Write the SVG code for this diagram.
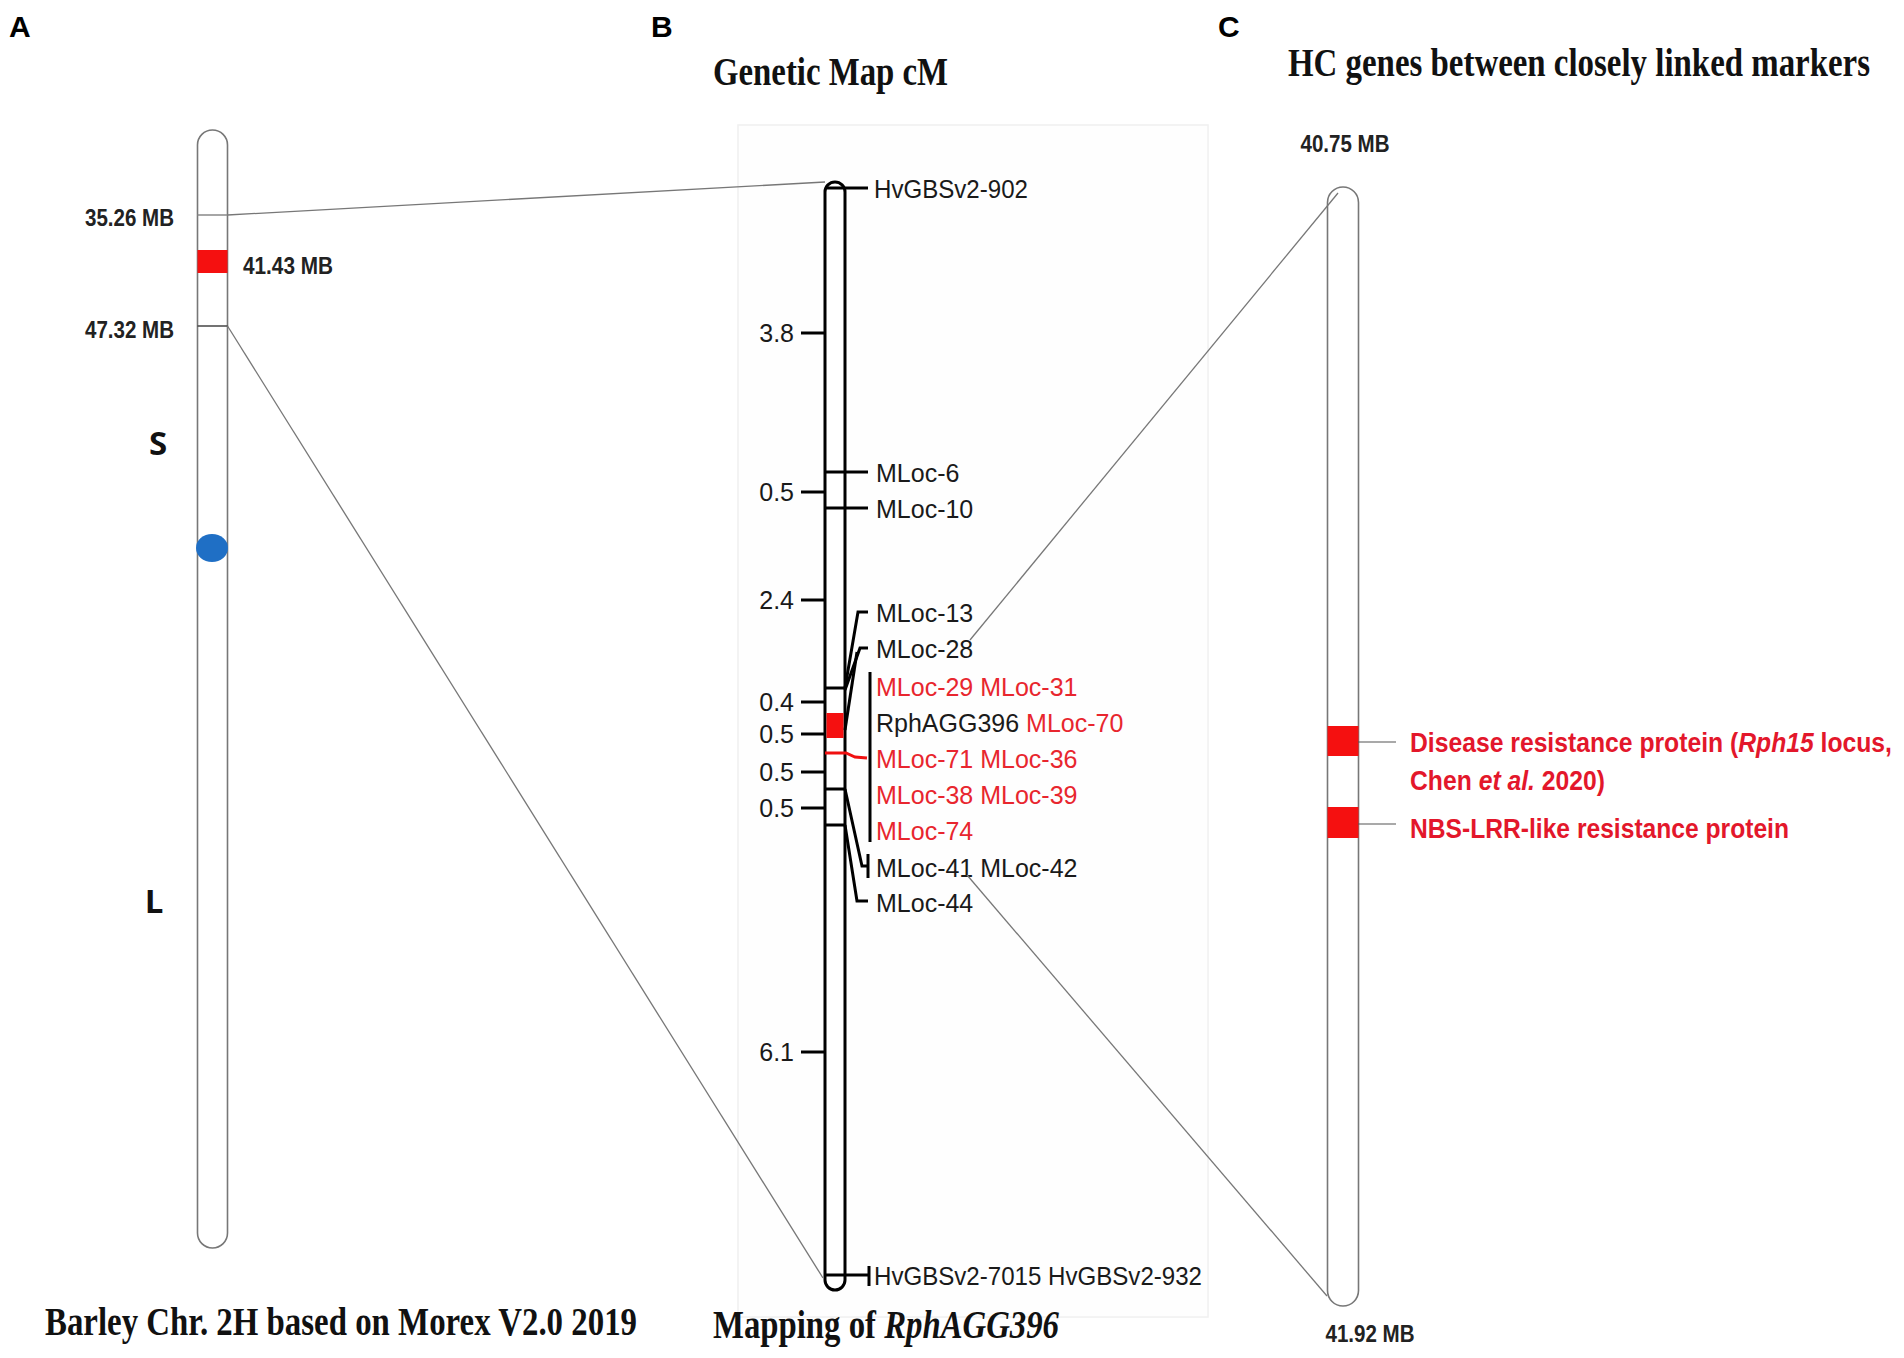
<svg xmlns="http://www.w3.org/2000/svg" width="1904" height="1358" viewBox="0 0 1904 1358">
<style>
.panel{font-family:"Liberation Sans",Arial,sans-serif;font-weight:bold;font-size:30px;fill:#000}
.title{font-family:"Liberation Serif","Times New Roman",serif;font-weight:bold;font-size:40px;fill:#111}
.mb{font-family:"Liberation Sans",Arial,sans-serif;font-weight:bold;font-size:23px;fill:#222}
.arm{font-family:"Open Sans","Liberation Sans",sans-serif;font-weight:bold;font-size:33px;fill:#111}
.mk{font-family:"Liberation Sans",Arial,sans-serif;font-size:25px;fill:#1a1a1a}
.red{fill:#e8262e}
.cm{font-family:"Liberation Sans",Arial,sans-serif;font-size:25px;fill:#1a1a1a;text-anchor:end}
.gene{font-family:"Liberation Sans",Arial,sans-serif;font-weight:bold;font-size:27px;fill:#e3172b}
.chA{fill:#fff;stroke:#777;stroke-width:1.6}
.chB{fill:#fff;stroke:#000;stroke-width:3}
.blk{stroke:#000;stroke-width:3;fill:none}
.thin{stroke:#555;stroke-width:1.2;fill:none}
.conn{stroke:#777;stroke-width:1.3;fill:none}
</style>
<rect width="1904" height="1358" fill="#fff"/>

<g id="panel-B-frame">
<rect x="738" y="125" width="470" height="1192" fill="#fefefe" stroke="#f0f0f0" stroke-width="1.5"/>
</g>

<g id="panel-labels">
<text class="panel" x="9" y="37">A</text>
<text class="panel" x="651" y="37">B</text>
<text class="panel" x="1218" y="37">C</text>
</g>

<g id="titles">
<text class="title" x="713" y="85" textLength="235" lengthAdjust="spacingAndGlyphs">Genetic Map cM</text>
<text class="title" x="1288" y="76" textLength="582" lengthAdjust="spacingAndGlyphs">HC genes between closely linked markers</text>
<text class="title" x="45" y="1335" textLength="592" lengthAdjust="spacingAndGlyphs">Barley Chr. 2H based on Morex V2.0 2019</text>
<text class="title" x="713" y="1338" textLength="346" lengthAdjust="spacingAndGlyphs">Mapping of <tspan font-style="italic">RphAGG396</tspan></text>
</g>

<g id="chromosome-A">
<rect class="chA" x="197.5" y="130" width="30" height="1118" rx="15" ry="15"/>
<line x1="197.5" y1="215" x2="227.5" y2="215" stroke="#888" stroke-width="1.5"/>
<rect x="197.5" y="250" width="30" height="23" fill="#f51010"/>
<line x1="197.5" y1="326" x2="227.5" y2="326" stroke="#444" stroke-width="1.5"/>
<ellipse cx="212" cy="548" rx="16" ry="14" fill="#1f6fc5"/>
<text class="mb" x="174" y="226" text-anchor="end" textLength="89" lengthAdjust="spacingAndGlyphs">35.26 MB</text>
<text class="mb" x="243" y="274" textLength="90" lengthAdjust="spacingAndGlyphs">41.43 MB</text>
<text class="mb" x="174" y="338" text-anchor="end" textLength="89" lengthAdjust="spacingAndGlyphs">47.32 MB</text>
<text class="arm" x="158" y="455" text-anchor="middle">S</text>
<text class="arm" x="154" y="913" text-anchor="middle">L</text>
</g>

<g id="chromosome-B">
<rect class="chB" x="825" y="182" width="20" height="1108" rx="10" ry="10"/>
<rect x="826.5" y="713" width="17" height="25" fill="#f51010"/>
<g class="blk">
<line x1="801" y1="333" x2="825" y2="333"/>
<line x1="801" y1="492" x2="825" y2="492"/>
<line x1="801" y1="600" x2="825" y2="600"/>
<line x1="801" y1="702" x2="825" y2="702"/>
<line x1="801" y1="734" x2="825" y2="734"/>
<line x1="801" y1="772" x2="825" y2="772"/>
<line x1="801" y1="808" x2="825" y2="808"/>
<line x1="801" y1="1052" x2="825" y2="1052"/>
</g>
<text class="cm" x="794" y="342">3.8</text>
<text class="cm" x="794" y="501">0.5</text>
<text class="cm" x="794" y="609">2.4</text>
<text class="cm" x="794" y="711">0.4</text>
<text class="cm" x="794" y="743">0.5</text>
<text class="cm" x="794" y="781">0.5</text>
<text class="cm" x="794" y="817">0.5</text>
<text class="cm" x="794" y="1061">6.1</text>
<g class="blk" stroke-width="2.6">
<line x1="825" y1="188" x2="868" y2="188"/>
<line x1="825" y1="472" x2="868" y2="472"/>
<line x1="825" y1="508" x2="868" y2="508"/>
<line x1="825" y1="688" x2="845" y2="688"/>
<polyline points="845,688 858,612 868,612"/>
<polyline points="845,690 860,648 868,648"/>
<polyline points="845,730 857,652"/>
<line x1="870" y1="672" x2="870" y2="842"/>
<line x1="825" y1="789" x2="845" y2="789"/>
<polyline points="845,789 862,866 868,866"/>
<line x1="868" y1="854" x2="868" y2="878"/>
<line x1="825" y1="825" x2="845" y2="825"/>
<polyline points="845,825 857,901 868,901"/>
<line x1="825" y1="1275" x2="869" y2="1275"/>
<line x1="869" y1="1266" x2="869" y2="1286"/>
</g>
<polyline points="825,753 846,753 855,757 867,758" stroke="#f01010" stroke-width="3" fill="none"/>
<text class="mk" x="874" y="198" textLength="154" lengthAdjust="spacingAndGlyphs">HvGBSv2-902</text>
<text class="mk" x="876" y="482">MLoc-6</text>
<text class="mk" x="876" y="518">MLoc-10</text>
<text class="mk" x="876" y="622">MLoc-13</text>
<text class="mk" x="876" y="658">MLoc-28</text>
<text class="mk red" x="876" y="696">MLoc-29 MLoc-31</text>
<text class="mk" x="876" y="732">RphAGG396 <tspan class="red">MLoc-70</tspan></text>
<text class="mk red" x="876" y="768">MLoc-71 MLoc-36</text>
<text class="mk red" x="876" y="804">MLoc-38 MLoc-39</text>
<text class="mk red" x="876" y="840">MLoc-74</text>
<text class="mk" x="876" y="877">MLoc-41 MLoc-42</text>
<text class="mk" x="876" y="912">MLoc-44</text>
<text class="mk" x="874" y="1285" textLength="328" lengthAdjust="spacingAndGlyphs">HvGBSv2-7015 HvGBSv2-932</text>
</g>

<g id="chromosome-C">
<rect class="chA" x="1327.5" y="187" width="31" height="1119" rx="15.5" ry="15.5"/>
<rect x="1327.5" y="726" width="31" height="30" fill="#f51010"/>
<rect x="1327.5" y="807" width="31" height="31" fill="#f51010"/>
<line class="thin" x1="1358" y1="742" x2="1396" y2="742"/>
<line class="thin" x1="1358" y1="824" x2="1396" y2="824"/>
<text class="mb" x="1345" y="152" text-anchor="middle" textLength="89" lengthAdjust="spacingAndGlyphs">40.75 MB</text>
<text class="mb" x="1370" y="1342" text-anchor="middle" textLength="89" lengthAdjust="spacingAndGlyphs">41.92 MB</text>
<text class="gene" x="1410" y="752" textLength="482" lengthAdjust="spacingAndGlyphs">Disease resistance protein (<tspan font-style="italic">Rph15</tspan> locus,</text>
<text class="gene" x="1410" y="790" textLength="195" lengthAdjust="spacingAndGlyphs">Chen <tspan font-style="italic">et al.</tspan> 2020)</text>
<text class="gene" x="1410" y="838" textLength="379" lengthAdjust="spacingAndGlyphs">NBS-LRR-like resistance protein</text>
</g>

<g id="connectors">
<line class="conn" x1="227.5" y1="215" x2="825" y2="182"/>
<line class="conn" x1="227.5" y1="326" x2="823" y2="1278"/>
<line class="conn" x1="970" y1="640" x2="1338" y2="193"/>
<line class="conn" x1="967" y1="875" x2="1327" y2="1296"/>
</g>
</svg>
